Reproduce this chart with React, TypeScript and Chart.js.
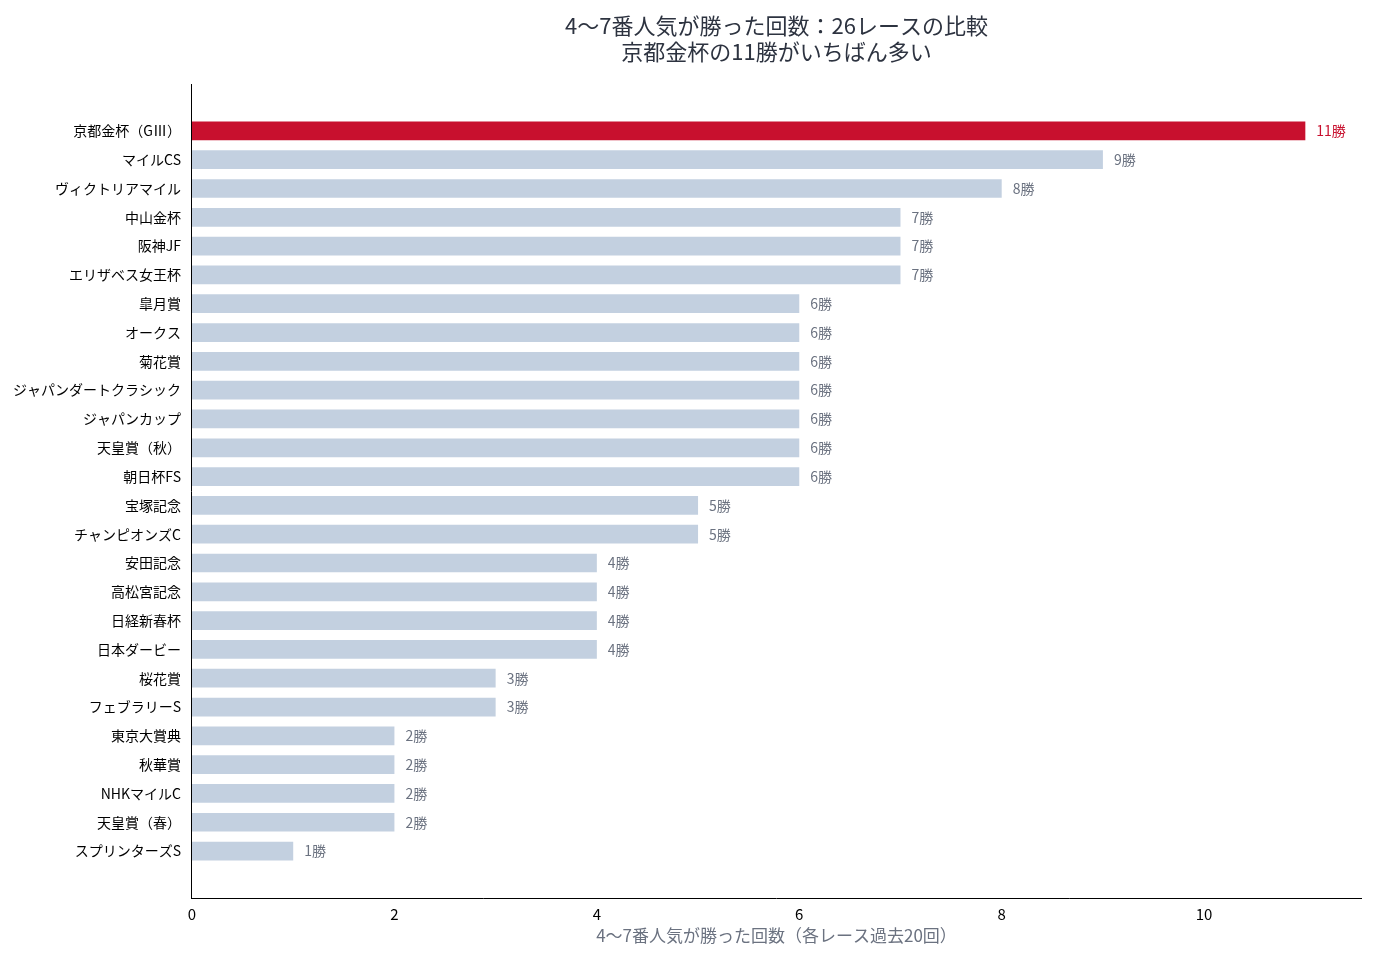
import React, { useEffect, useRef } from 'react';
import { Chart, registerables } from 'chart.js';

Chart.register(...registerables);

const races = [
  '京都金杯（GⅢ）', 'マイルCS', 'ヴィクトリアマイル', '中山金杯', '阪神JF', 'エリザベス女王杯',
  '皐月賞', 'オークス', '菊花賞', 'ジャパンダートクラシック', 'ジャパンカップ', '天皇賞（秋）',
  '朝日杯FS', '宝塚記念', 'チャンピオンズC', '安田記念', '高松宮記念', '日経新春杯',
  '日本ダービー', '桜花賞', 'フェブラリーS', '東京大賞典', '秋華賞', 'NHKマイルC',
  '天皇賞（春）', 'スプリンターズS',
];
const wins = [11, 9, 8, 7, 7, 7, 6, 6, 6, 6, 6, 6, 6, 5, 5, 4, 4, 4, 4, 3, 3, 2, 2, 2, 2, 1];
const highlightIndex = 0;

const titleLines = ['4〜7番人気が勝った回数：26レースの比較', '京都金杯の11勝がいちばん多い'];
const xAxisTitle = '4〜7番人気が勝った回数（各レース過去20回）';
const xTicks = [0, 2, 4, 6, 8, 10];

const FONT = '"Noto Sans CJK JP", "Noto Sans", sans-serif';
const RED = '#c8102e';
const BLUE_GREY = '#c3d0e0';

const valueLabels = {
  id: 'valueLabels',
  afterDatasetsDraw(chart: Chart) {
    const { ctx } = chart;
    const meta = chart.getDatasetMeta(0);
    ctx.save();
    ctx.font = `14px ${FONT}`;
    ctx.textBaseline = 'middle';
    ctx.textAlign = 'left';
    meta.data.forEach((bar: any, i: number) => {
      ctx.fillStyle = i === highlightIndex ? RED : '#6b7280';
      ctx.fillText(`${wins[i]}勝`, bar.x + 11, bar.y);
    });
    ctx.restore();
  },
};

export default function App() {
  const canvasRef = useRef<HTMLCanvasElement>(null);

  useEffect(() => {
    document.body.style.margin = '0';
    if (!canvasRef.current) return;
    const chart = new Chart(canvasRef.current, {
      type: 'bar',
      data: {
        datasets: [
          {
            data: wins.map((w, i) => ({ x: w, y: i })),
            backgroundColor: wins.map((_, i) => (i === highlightIndex ? RED : BLUE_GREY)),
            barPercentage: 0.65,
            categoryPercentage: 1,
          },
        ],
      },
      plugins: [valueLabels],
      options: {
        indexAxis: 'y',
        animation: false,
        responsive: false,
        layout: { padding: { top: 8, right: 15, bottom: 10, left: 7 } },
        plugins: {
          legend: { display: false },
          tooltip: { enabled: false },
          title: {
            display: true,
            fullSize: false,
            text: titleLines,
            color: '#2d3340',
            font: { family: FONT, size: 22, weight: 'normal' },
            lineHeight: 1.2,
            padding: { top: 4, bottom: 20 },
          },
        },
        scales: {
          x: {
            type: 'linear',
            min: 0,
            max: 11.55,
            grid: { display: false, drawTicks: true, tickLength: 5, tickColor: '#000' },
            border: { display: true, color: '#000', width: 1 },
            afterBuildTicks: (axis: any) => {
              axis.ticks = xTicks.map((v) => ({ value: v }));
            },
            ticks: { color: '#000', font: { family: FONT, size: 15 }, padding: 2 },
            title: {
              display: true,
              text: xAxisTitle,
              color: '#6b7280',
              font: { family: FONT, size: 17 },
              padding: { top: 0 },
            },
          },
          y: {
            type: 'linear',
            reverse: true,
            offset: false,
            min: -1.6,
            max: 26.65,
            grid: { display: false, drawTicks: true, tickLength: 5, tickColor: '#000' },
            border: { display: true, color: '#000', width: 1 },
            afterBuildTicks: (axis: any) => {
              axis.ticks = races.map((_, i) => ({ value: i }));
            },
            ticks: {
              color: '#000',
              font: { family: FONT, size: 14 },
              padding: 6,
              autoSkip: false,
              callback: (v: number | string) => races[Number(v)] ?? '',
            },
          },
        },
      },
    });
    return () => chart.destroy();
  }, []);

  return (
    <div style={{ width: 1376, height: 960, background: '#fff' }}>
      <canvas ref={canvasRef} width={1376} height={960} style={{ width: 1376, height: 960 }} />
    </div>
  );
}
